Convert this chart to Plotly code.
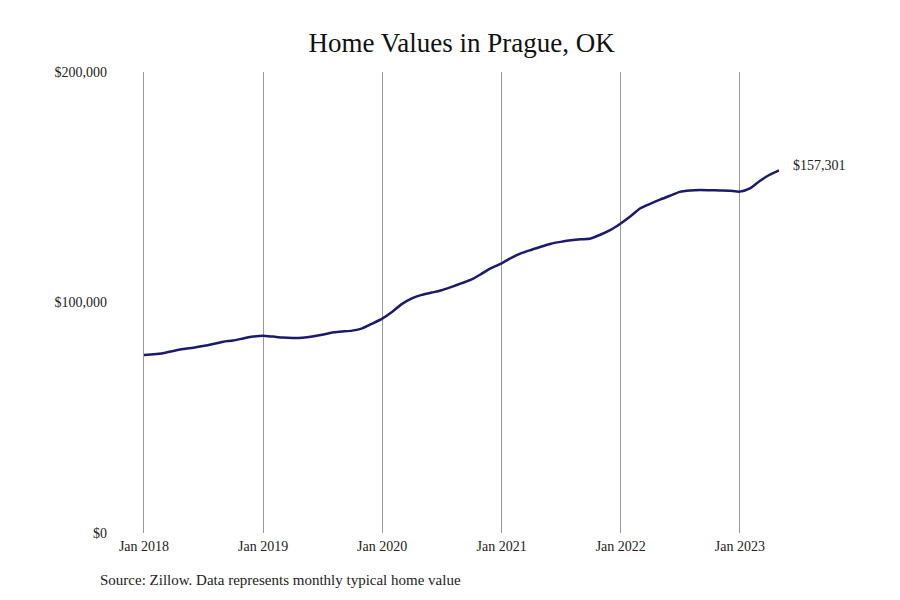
import pandas as pd
import plotly.graph_objects as go

# monthly typical home value, Jan 2018 .. May 2023 (thousands of $)
months = pd.date_range("2018-01-01", "2023-05-01", freq="MS")
values_k = [
    77.2, 77.5, 78.0, 79.0, 79.8, 80.4, 81.1, 82.0, 83.0, 83.5, 84.4, 85.2,
    85.6, 85.2, 84.8, 84.6, 84.7, 85.2, 86.0, 87.0, 87.4, 87.8, 88.8, 90.8,
    93.0, 96.0, 99.3, 101.8, 103.3, 104.3, 105.3, 106.8, 108.4, 110.0, 112.5, 115.0,
    117.0, 119.5, 121.3, 122.8, 124.2, 125.5, 126.3, 127.0, 127.4, 127.8, 129.5, 131.5,
    134.3, 137.5, 140.8, 142.8, 144.6, 146.3, 148.0, 148.6, 148.8, 148.7, 148.6, 148.5,
    148.1, 149.5, 152.5, 155.3, 157.301,
]
values = [v * 1000 for v in values_k]
y_ticks = [0, 100000, 200000]
y_labels = ["$0", "$100,000", "$200,000"]
x_ticks = pd.date_range("2018-01-01", "2023-01-01", freq="YS")
x_labels = [f"Jan {d.year}" for d in x_ticks]

serif = "Liberation Serif"
navy = "#1c1a6b"

fig = go.Figure()
fig.add_trace(go.Scatter(x=months, y=values, mode="lines",
                         line=dict(color=navy, width=2.5, shape="spline", smoothing=0.6),
                         hoverinfo="skip", showlegend=False))
fig.add_annotation(x=months[-1], y=values[-1], text=f"${values[-1]:,.0f}",
                   showarrow=False, xanchor="left", xshift=12, yshift=5,
                   font=dict(family=serif, size=14, color="#222"))
fig.add_annotation(x=0, xref="paper", y=0, yref="paper", yshift=-47,
                   xshift=-44, xanchor="left", yanchor="middle", showarrow=False,
                   text="Source: Zillow. Data represents monthly typical home value",
                   font=dict(family=serif, size=15, color="#222"))

# the page body adds an 8px offset, so margins are trimmed to match;
# range starts a few days early so the Jan 2018 gridline is drawn
fig.update_layout(
    width=900, height=600,
    margin=dict(l=134, r=129, t=64, b=75),
    paper_bgcolor="white", plot_bgcolor="white",
    title=dict(text="Home Values in Prague, OK", x=0.504, xanchor="center", y=0.942,
               yanchor="middle", font=dict(family=serif, size=27, color="#111")),
    font=dict(family=serif, size=14, color="#222"),
)
fig.update_xaxes(range=[pd.Timestamp("2017-12-26"), months[-1]],
                 tickvals=x_ticks, ticktext=x_labels,
                 showgrid=True, gridcolor="#999", gridwidth=1, showline=False,
                 zeroline=False, ticks="", ticklabelstandoff=3)
fig.update_yaxes(range=[0, 200000], tickvals=y_ticks, ticktext=y_labels,
                 showgrid=False, zeroline=False, showline=False, ticks="",
                 ticklabelstandoff=34)

fig.write_html("out.html")
